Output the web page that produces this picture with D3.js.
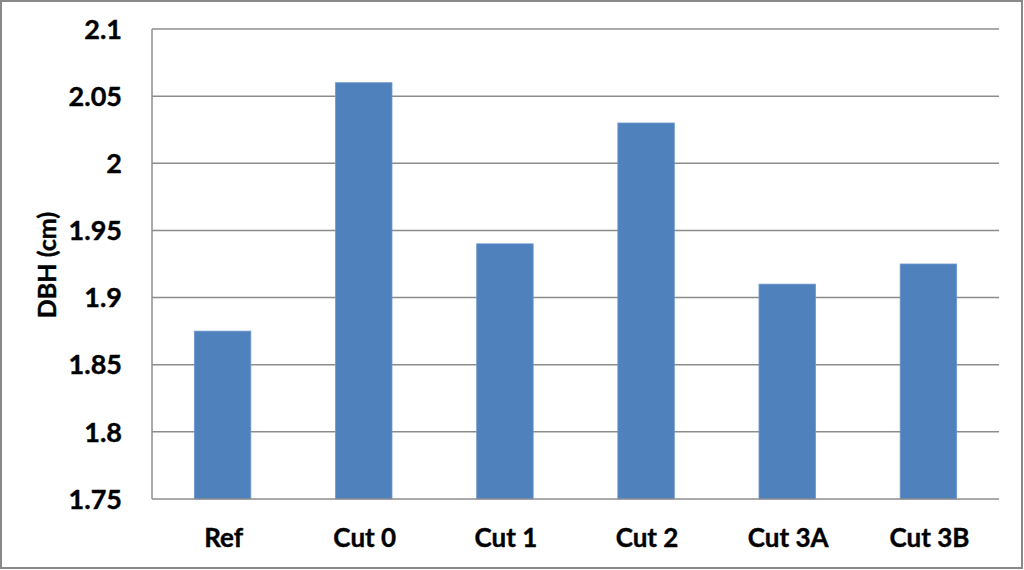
<!DOCTYPE html>
<html><head><meta charset="utf-8">
<script src="https://cdn.jsdelivr.net/npm/d3@7"></script>
<style>body{margin:0;background:#fff}svg{display:block}</style>
</head><body>
<script>
const categories = ["Ref","Cut 0","Cut 1","Cut 2","Cut 3A","Cut 3B"];
const values = [1.875, 2.06, 1.94, 2.03, 1.91, 1.925];
const yTicks = [1.75,1.8,1.85,1.9,1.95,2,2.05,2.1];
const yLabel = "DBH (cm)";

const W=1024,H=570;
const m={left:152,right:999,top:29,bottom:499};
const font="Lato, 'Open Sans', sans-serif";
const svg=d3.select("body").append("svg").attr("width",W).attr("height",H);
svg.append("rect").attr("x",1).attr("y",1).attr("width",1021).attr("height",567)
  .attr("fill","#fff").attr("stroke","#898989").attr("stroke-width",2);

const x=d3.scaleBand().domain(categories).range([m.left,m.right]).paddingInner(0.6).paddingOuter(0.3);
const y=d3.scaleLinear().domain([1.75,2.1]).range([m.bottom,m.top]);

// gridlines
svg.append("g").selectAll("line").data(yTicks.slice(1)).join("line")
  .attr("x1",m.left).attr("x2",m.right).attr("y1",d=>y(d)).attr("y2",d=>y(d))
  .attr("stroke","#8c8c8c").attr("stroke-width",1.5);

// bars
svg.append("g").selectAll("rect").data(values).join("rect")
  .attr("x",(d,i)=>x(categories[i])).attr("width",x.bandwidth())
  .attr("y",d=>y(d)).attr("height",d=>y(1.75)-y(d))
  .attr("fill","#4F81BD").attr("stroke","#6b97cc").attr("stroke-width",0.8);

// axes lines
svg.append("line").attr("x1",m.left).attr("x2",m.left).attr("y1",m.top).attr("y2",m.bottom)
  .attr("stroke","#8c8c8c").attr("stroke-width",1.5);
svg.append("line").attr("x1",m.left).attr("x2",m.right).attr("y1",m.bottom).attr("y2",m.bottom)
  .attr("stroke","#8c8c8c").attr("stroke-width",1.5);

function txt(sel,size){
  return sel.attr("font-family",font).attr("font-weight","bold").attr("font-size",size)
    .attr("fill","#000").attr("stroke","#000").attr("stroke-width",0.4);
}

// y tick labels
txt(svg.append("g").selectAll("text").data(yTicks).join("text")
  .attr("x",122).attr("y",d=>y(d)).attr("dy","0.36em").attr("text-anchor","end"),27)
  .text(d=>d3.format("~g")(d));

// x labels
txt(svg.append("g").selectAll("text").data(categories).join("text")
  .attr("x",d=>x(d)+x.bandwidth()/2+1).attr("y",547).attr("text-anchor","middle"),26)
  .text(d=>d);

// y label
txt(svg.append("text").attr("transform","translate(56,265) rotate(-90)").attr("text-anchor","middle"),25)
  .text(yLabel);
</script>
</body></html>
